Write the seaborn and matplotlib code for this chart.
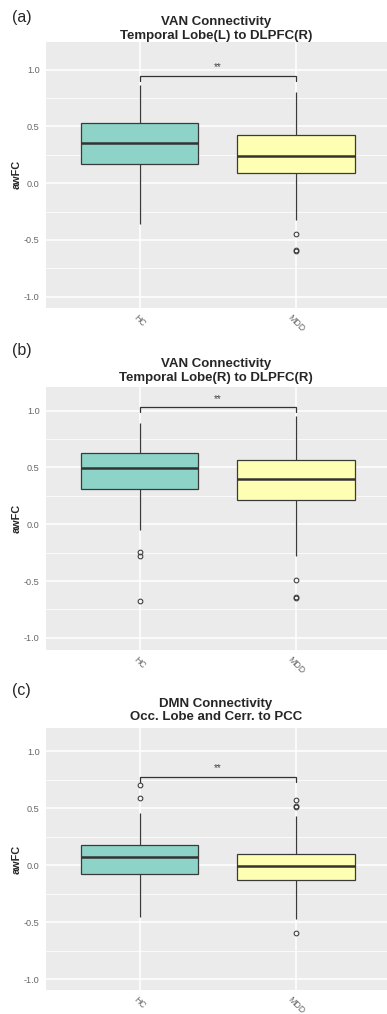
import numpy as np
import pandas as pd
import matplotlib
matplotlib.use("Agg")
import matplotlib.pyplot as plt
import seaborn as sns

sns.set_style("white")
plt.rcParams['font.family'] = ['Liberation Sans', 'DejaVu Sans']

# ---------------- data ----------------
groups = ["HC", "MDD"]
panel_labels = ["(a)", "(b)", "(c)"]
titles_line1 = ["VAN Connectivity", "VAN Connectivity", "DMN Connectivity"]
titles_line2 = ["Temporal Lobe(L) to DLPFC(R)", "Temporal Lobe(R) to DLPFC(R)",
                "Occ. Lobe and Cerr. to PCC"]
ylabel = "awFC"
yticks = [-1.0, -0.5, 0.0, 0.5, 1.0]
ytick_labels = ["-1.0", "-0.5", "0.0", "0.5", "1.0"]
sig_text = "**"

# box summaries per panel: [HC, MDD]
whisker_low = [[-0.36, -0.32], [-0.05, -0.279], [-0.45, -0.47]]
q1_vals     = [[0.170, 0.093], [0.311, 0.217], [-0.076, -0.129]]
median_vals = [[0.353, 0.238], [0.496, 0.396], [0.070, -0.006]]
q3_vals     = [[0.530, 0.424], [0.631, 0.567], [0.178, 0.102]]
whisker_high = [[0.865, 0.80], [0.89, 0.95], [0.461, 0.435]]
outliers_low = [[[], [-0.45, -0.59, -0.60]],
                [[-0.244, -0.282, -0.673], [-0.49, -0.64, -0.652]],
                [[], [-0.596]]]
outliers_high = [[[], []],
                 [[], []],
                 [[0.59, 0.704], [0.51, 0.52, 0.573]]]
sig_y = [0.944, 1.03, 0.772]

colors = ["#8DD3C7", "#FFFFB3"]


def sample_from_summary(lo_out, wlo, q1, med, q3, whi, hi_out):
    """Small table whose quartiles / whiskers / fliers equal the read summary."""
    k = max(1 + len(lo_out), 1 + len(hi_out))
    vals = (sorted(lo_out) + [wlo] + [q1] * (k - 1 - len(lo_out)) + [q1]
            + [q1] * (k - 1) + [med] + [med] * (k - 1) + [q3]
            + [q3] * (k - 1 - len(hi_out)) + [whi] + sorted(hi_out))
    return vals


# ---------------- layout ----------------
W, H = 387, 1014
fig = plt.figure(figsize=(W / 100, H / 100), dpi=100)

left_px, right_px = 45.6, 390.0
panel_px = [(41.7, 307.7), (386.7, 650.0), (728.3, 990.0)]
ylims = [(-1.097, 1.247), (-1.107, 1.211), (-1.094, 1.20)]
label_y_px = [17.5, 350.0, 690.0]
title_base_px = [(25.0, 38.7), (367.0, 380.7), (706.7, 720.0)]

for i in range(3):
    top, bot = panel_px[i]
    ax = fig.add_axes([left_px / W, 1 - bot / H, (right_px - left_px) / W, (bot - top) / H])

    rows = []
    for g_i, g in enumerate(groups):
        vals = sample_from_summary(outliers_low[i][g_i], whisker_low[i][g_i], q1_vals[i][g_i],
                                   median_vals[i][g_i], q3_vals[i][g_i], whisker_high[i][g_i],
                                   outliers_high[i][g_i])
        rows += [(g, v) for v in vals]
    df = pd.DataFrame(rows, columns=["group", "value"])

    ax.set_facecolor("#EBEBEB")
    sns.boxplot(data=df, x="group", y="value", hue="group", palette=colors, legend=False,
                saturation=1, width=0.75, linecolor="#3a3a3a", linewidth=0.9, showcaps=False,
                flierprops=dict(marker="o", markerfacecolor="none", markeredgecolor="#3a3a3a",
                                markeredgewidth=0.75, markersize=3.4),
                medianprops=dict(linewidth=1.8, color="#333333"),
                ax=ax, zorder=3)

    ax.set_xlim(-0.6, 1.6)
    ax.set_ylim(*ylims[i])
    ax.set_yticks(yticks)
    ax.set_yticklabels(ytick_labels)
    ax.set_yticks([-0.75, -0.25, 0.25, 0.75], minor=True)
    ax.set_axisbelow(True)
    ax.grid(True, which="major", color="white", linewidth=1.1)
    ax.grid(True, which="minor", axis="y", color="white", linewidth=0.55)
    for s in ax.spines.values():
        s.set_visible(False)
    ax.tick_params(which="major", length=2.3, width=0.7, color="#333333",
                   labelsize=6.6, labelcolor="#666666", pad=2)
    ax.tick_params(which="minor", length=0)
    ax.set_xlabel("")
    ax.set_ylabel("")
    for lab in ax.get_xticklabels():
        lab.set_rotation(-45)
        lab.set_ha("center")
        lab.set_va("top")
        lab.set_fontsize(6.3)
    ax.tick_params(axis="x", pad=1.5)

    # significance bracket
    yb = sig_y[i]
    tip = 0.045
    ax.plot([0, 0, 1, 1], [yb - tip, yb, yb, yb - tip], color="#333333", linewidth=0.9,
            zorder=4, solid_joinstyle="miter")
    ax.text(0.5, yb + 0.075, sig_text, ha="center", va="center", fontsize=7, color="#444444")

    # titles, labels
    fig.text(216 / W, 1 - title_base_px[i][0] / H, titles_line1[i], ha="center", va="baseline",
             fontsize=9.5, fontweight="bold")
    fig.text(216 / W, 1 - title_base_px[i][1] / H, titles_line2[i], ha="center", va="baseline",
             fontsize=9.5, fontweight="bold")
    fig.text(12 / W, 1 - label_y_px[i] / H, panel_labels[i], ha="left", va="center", fontsize=11.5)
    fig.text(17 / W, 1 - (top + bot) / 2 / H, ylabel, rotation=90, ha="center", va="center",
             fontsize=7.8, fontweight="bold")

fig.savefig("out.png", dpi=100)
